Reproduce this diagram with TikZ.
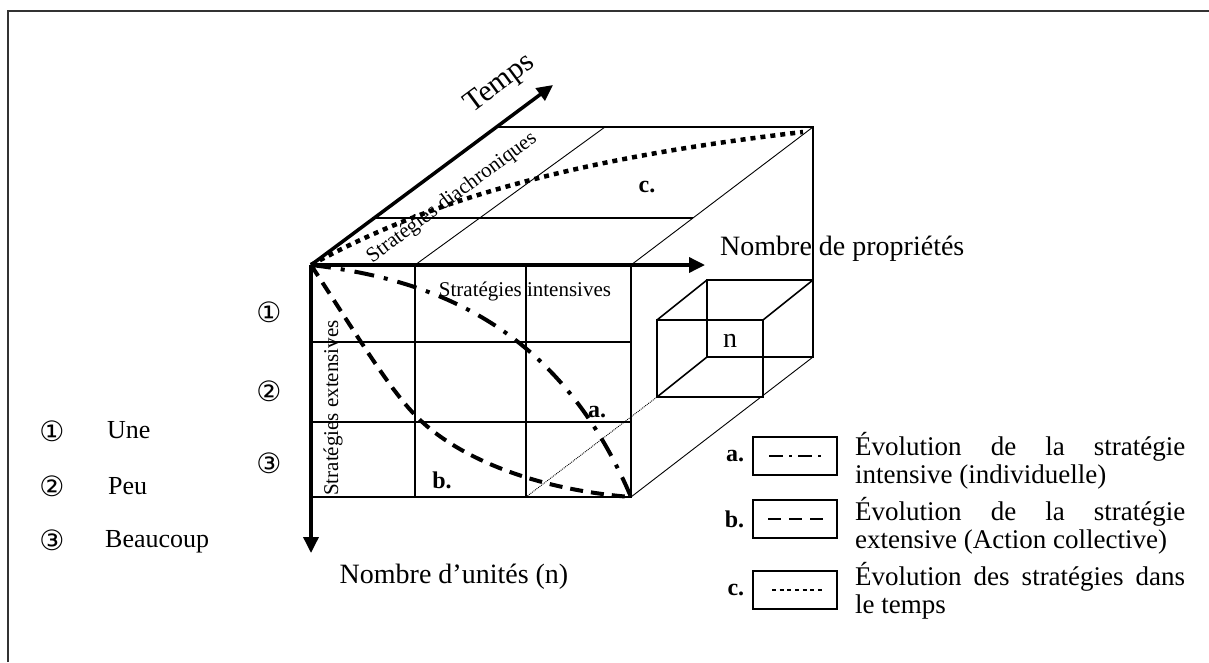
\documentclass[tikz,border=0pt]{standalone}
\usepackage{fontspec}
\setmainfont{Liberation Serif}
\newfontfamily\circfont{DejaVu Sans}
\usetikzlibrary{arrows.meta, positioning}
\tikzset{
  frame/.style = {line width=1.6pt, draw=black!80},
  axis/.style = {-{Triangle[length=16pt,width=15pt]}, line width=3.5pt},
  gridline/.style = {line width=1.6pt},
  thinline/.style = {line width=0.9pt},
  curvea/.style = {line width=4pt, dash pattern=on 20pt off 10pt on 4pt off 10pt},
  curveb/.style = {line width=4pt, dash pattern=on 13pt off 8pt},
  curvec/.style = {line width=4.5pt, dash pattern=on 5pt off 5pt},
  axlabel/.style = {font=\fontsize{28}{33}\selectfont, inner sep=0pt},
  zone/.style = {font=\fontsize{21}{25}\selectfont, inner sep=0pt},
  tag/.style = {font=\fontsize{24}{28}\selectfont\bfseries, inner sep=0pt},
  circnum/.style = {font=\circfont\fontsize{28}{30}\selectfont, inner sep=0pt},
  keybox/.style = {draw, line width=1.3pt, minimum width=84pt, minimum height=38pt, inner sep=0pt},
  keyline/.style = {font=\fontsize{27}{30}\selectfont, anchor=base west, inner sep=0pt},
  levtext/.style = {font=\fontsize{26}{30}\selectfont, anchor=base west, inner sep=0pt}
}
\newcommand{\keyfull}[1]{\makebox[330pt][s]{#1}}

\begin{document}
\begin{tikzpicture}[x=1pt, y=-1pt]
  \useasboundingbox (0,0) rectangle (1209,662);

  % cadre
  \draw[frame] (8,662) -- (8,11) -- (1209,11);

  % sommets du cube
  \coordinate (O)   at (311,265);
  \coordinate (fr)  at (631,265);
  \coordinate (fbl) at (311,497);
  \coordinate (fbr) at (631,497);
  \coordinate (bl)  at (498,127);
  \coordinate (br)  at (813,127);
  \coordinate (bbr) at (813,357);

  % face avant (grille 3 x 3)
  \foreach \x in {415,526} \draw[gridline] (\x,265) -- (\x,497);
  \foreach \y in {342,422} \draw[gridline] (311,\y) -- (631,\y);
  \draw[gridline] (fbl) -- (fbr) -- (fr);

  % face du dessus
  \draw[gridline] (bl) -- (br) -- (bbr);
  \draw[gridline] (372,218) -- (693,218);
  \draw[thinline] (415,265) -- (605,127);
  \draw[thinline] (fr) -- (br);
  \draw[thinline] (fbr) -- (bbr);

  % petit cube
  \draw[gridline] (657,320) rectangle (763,397);
  \draw[gridline] (707,280) rectangle (813,357);
  \draw[gridline] (657,320) -- (707,280);
  \draw[gridline] (763,320) -- (813,280);
  \draw[gridline] (657,397) -- (707,357);
  \node[axlabel] (unit) at (730,341) {n};
  \draw[thinline, densely dotted] (526,497) -- (657,397);

  % axes
  \draw[axis] (O) -- (705,265) coordinate (tx);
  \draw[axis] (O) -- (311,553) coordinate (ty);
  \draw[axis] (O) -- (553,85) coordinate (tt);

  % courbes
  \draw[curvea] (O) .. controls (440,280) and (560,330) .. (fbr);
  \draw[curveb] (O) .. controls (360,340) and (390,390) .. (417,417)
                    .. controls (460,460) and (540,490) .. (fbr);
  \draw[curvec] (O) .. controls (420,205) and (560,160) .. (803,132);

  % textes
  \node[axlabel, rotate=36.6, font=\fontsize{30}{34}\selectfont] (temps) at (500,84) {Temps};
  \node[axlabel, anchor=base west] (prop) at (720,255) {Nombre de propriétés};
  \node[axlabel, anchor=base] (unites) at (454,583) {Nombre d’unités (n)};
  \node[zone, rotate=36.6] (diach) at (452,198) {Stratégies diachroniques};
  \node[zone] (inten) at (525,291) {Stratégies intensives};
  \node[zone, rotate=90] (exten) at (333,408) {Stratégies extensives};
  \node[tag] (la) at (597,412) {a.};
  \node[tag] (lb) at (442,480) {b.};
  \node[tag] (lc) at (647,187) {c.};

  % niveaux
  \node[circnum] (n1) at (269,312) {①};
  \node[circnum] (n2) at (269,391) {②};
  \node[circnum] (n3) at (269,463) {③};
  \node[circnum] (m1) at (52,431) {①};
  \node[circnum] (m2) at (52,486) {②};
  \node[circnum] (m3) at (52,540) {③};
  \node[levtext] (une)  at (107,438) {Une};
  \node[levtext] (peu)  at (108,494) {Peu};
  \node[levtext] (beau) at (105,547) {Beaucoup};

  % legende
  \node[keybox] (ka) at (795,456) {};
  \node[keybox] (kb) at (795,519) {};
  \node[keybox] (kc) at (795,590) {};
  \draw[line width=2.4pt, dash pattern=on 14pt off 6pt on 3pt off 6pt]
    ([xshift=-26pt]ka.center) -- ([xshift=26pt]ka.center);
  \draw[line width=2.4pt, dash pattern=on 13pt off 8pt]
    ([xshift=-27pt]kb.center) -- ([xshift=28pt]kb.center);
  \draw[line width=2.8pt, dash pattern=on 4pt off 3.67pt]
    ([xshift=-23pt]kc.center) -- ([xshift=27pt]kc.center);
  \node[tag, left=8pt of ka] (ta) {a.};
  \node[tag, left=8pt of kb] (tb) {b.};
  \node[tag, left=8pt of kc] (tc) {c.};
  \node[keyline] (ka1) at (855,455) {\keyfull{Évolution de la stratégie}};
  \node[keyline] (ka2) at (855,483) {intensive (individuelle)};
  \node[keyline] (kb1) at (855,520) {\keyfull{Évolution de la stratégie}};
  \node[keyline] (kb2) at (855,548) {extensive (Action collective)};
  \node[keyline] (kc1) at (855,585) {\keyfull{Évolution des stratégies dans}};
  \node[keyline] (kc2) at (855,613) {le temps};
\end{tikzpicture}
\end{document}
